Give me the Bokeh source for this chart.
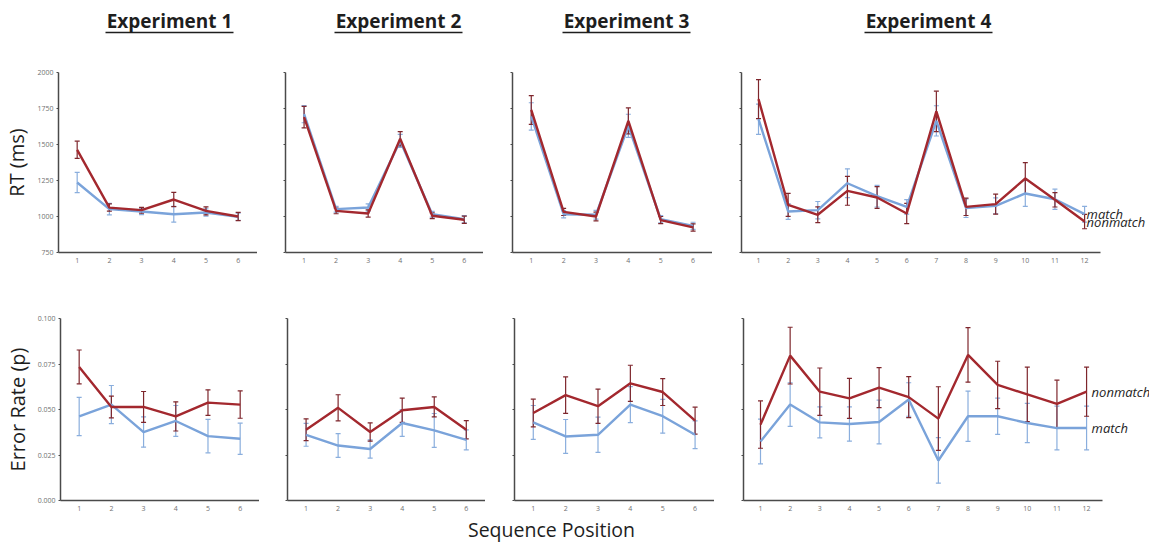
from bokeh.plotting import figure
from bokeh.layouts import column, row
from bokeh.models import ColumnDataSource, Range1d, FixedTicker, Whisker, TeeHead
from bokeh.core.properties import value
from bokeh.embed import file_html
from bokeh.resources import INLINE

# ---------------------------------------------------------------- data
positions_short = [1, 2, 3, 4, 5, 6]
positions_long = [1, 2, 3, 4, 5, 6, 7, 8, 9, 10, 11, 12]

experiment_titles = ["Experiment 1", "Experiment 2", "Experiment 3", "Experiment 4"]
series_names = ["match", "nonmatch"]

rt_ticks = [750, 1000, 1250, 1500, 1750, 2000]
rt_tick_labels = ["750", "1000", "1250", "1500", "1750", "2000"]
err_ticks = [0.0, 0.025, 0.05, 0.075, 0.1]
err_tick_labels = ["0.000", "0.025", "0.050", "0.075", "0.100"]

# reaction times (ms): mean and standard error per sequence position
exp1_rt_match = [1236, 1051, 1035, 1016, 1028, 998]
exp1_rt_match_se = [70, 40, 22, 55, 25, 25]
exp1_rt_nonmatch = [1463, 1062, 1044, 1118, 1039, 1000]
exp1_rt_nonmatch_se = [60, 25, 20, 50, 28, 28]

exp2_rt_match = [1711, 1051, 1062, 1525, 1016, 981]
exp2_rt_match_se = [60, 20, 25, 45, 20, 25]
exp2_rt_nonmatch = [1690, 1039, 1021, 1540, 1005, 977]
exp2_rt_nonmatch_se = [75, 20, 25, 50, 20, 25]

exp3_rt_match = [1695, 1016, 1012, 1630, 981, 935]
exp3_rt_match_se = [95, 25, 30, 80, 25, 25]
exp3_rt_nonmatch = [1740, 1032, 1000, 1664, 975, 924]
exp3_rt_nonmatch_se = [100, 25, 30, 90, 25, 25]

exp4_rt_match = [1676, 1035, 1044, 1231, 1141, 1067, 1664, 1058, 1074, 1160, 1120, 1016]
exp4_rt_match_se = [105, 55, 60, 100, 75, 50, 105, 65, 55, 90, 70, 55]
exp4_rt_nonmatch = [1815, 1081, 1012, 1178, 1132, 1021, 1730, 1067, 1086, 1264, 1116, 965]
exp4_rt_nonmatch_se = [135, 80, 55, 100, 75, 70, 140, 60, 70, 110, 50, 50]

# error rates (proportion): mean and standard error per sequence position
exp1_err_match = [0.0462, 0.0527, 0.0376, 0.0437, 0.0354, 0.0339]
exp1_err_match_se = [0.0105, 0.0105, 0.0083, 0.0085, 0.0092, 0.0086]
exp1_err_nonmatch = [0.0734, 0.0514, 0.0514, 0.0462, 0.0538, 0.0527]
exp1_err_nonmatch_se = [0.0093, 0.006, 0.0085, 0.008, 0.007, 0.0075]

exp2_err_match = [0.0361, 0.0302, 0.0283, 0.0426, 0.0385, 0.0333]
exp2_err_match_se = [0.0063, 0.0065, 0.005, 0.0074, 0.0093, 0.0055]
exp2_err_nonmatch = [0.0389, 0.0509, 0.0376, 0.0496, 0.0514, 0.0389]
exp2_err_nonmatch_se = [0.006, 0.0072, 0.005, 0.0067, 0.0055, 0.005]

exp3_err_match = [0.0429, 0.0352, 0.0361, 0.0527, 0.0463, 0.0361]
exp3_err_match_se = [0.0093, 0.0093, 0.0097, 0.0099, 0.0093, 0.0076]
exp3_err_nonmatch = [0.0481, 0.0579, 0.0518, 0.0644, 0.0596, 0.0439]
exp3_err_nonmatch_se = [0.0076, 0.01, 0.0094, 0.0099, 0.0074, 0.0074]

exp4_err_match = [0.0324, 0.0527, 0.0429, 0.042, 0.0431, 0.0555, 0.022, 0.0463, 0.0463, 0.0426, 0.0398, 0.0398]
exp4_err_match_se = [0.0123, 0.012, 0.0085, 0.0094, 0.012, 0.0092, 0.0125, 0.0138, 0.01, 0.0108, 0.012, 0.012]
exp4_err_nonmatch = [0.0417, 0.0796, 0.0598, 0.0561, 0.062, 0.0568, 0.045, 0.08, 0.0635, 0.0583, 0.0531, 0.0598]
exp4_err_nonmatch_se = [0.013, 0.0156, 0.013, 0.011, 0.011, 0.0113, 0.0175, 0.015, 0.013, 0.015, 0.013, 0.0135]

# ---------------------------------------------------------------- style
FONT = "Open Sans"
MATCH_LINE = "#7aa3da"
MATCH_BAR = "#8aaedd"
NONMATCH_LINE = "#a3282e"
NONMATCH_BAR = "#7e262c"
AXIS_COLOR = "#4a4a4a"
TICK_LABEL_COLOR = "#707070"

TOP_FRAME_H = 180
BOTTOM_FRAME_H = 182


def make_panel(xs, match, match_se, nonmatch, nonmatch_se, *, x_range, x_bounds,
               y_range, y_ticks, y_labels, frame_w, frame_h, border_left,
               border_top, border_bottom, show_y_labels, y_axis_label=None,
               end_labels=None, label_offset=3):
    p = figure(frame_width=frame_w, frame_height=frame_h,
               x_range=Range1d(*x_range), y_range=Range1d(*y_range),
               min_border_left=border_left, min_border_right=0,
               min_border_top=border_top, min_border_bottom=border_bottom,
               toolbar_location=None, output_backend="svg")
    p.background_fill_color = "white"
    p.border_fill_color = "white"
    p.outline_line_color = None
    p.grid.visible = False

    for ys, se, line_c, bar_c in ((match, match_se, MATCH_LINE, MATCH_BAR),
                                  (nonmatch, nonmatch_se, NONMATCH_LINE, NONMATCH_BAR)):
        src = ColumnDataSource(dict(
            x=xs, y=ys,
            upper=[v + e for v, e in zip(ys, se)],
            lower=[v - e for v, e in zip(ys, se)]))
        p.line("x", "y", source=src, line_color=line_c, line_width=2.4)
        p.add_layout(Whisker(source=src, base="x", upper="upper", lower="lower",
                             line_color=bar_c, line_width=1.2,
                             upper_head=TeeHead(size=5, line_color=bar_c, line_width=1.2),
                             lower_head=TeeHead(size=5, line_color=bar_c, line_width=1.2)))

    if end_labels:
        last_x = [xs[-1], xs[-1]]
        last_y = [match[-1], nonmatch[-1]]
        p.text(x=last_x, y=last_y, text=end_labels, x_offset=label_offset,
               text_font=value(FONT), text_font_style="italic",
               text_font_size="13px", text_color="#1e1e1e",
               text_baseline="middle", text_align="left")

    xa = p.xaxis[0]
    xa.ticker = FixedTicker(ticks=xs)
    xa.bounds = x_bounds
    ya = p.yaxis[0]
    ya.ticker = FixedTicker(ticks=y_ticks)
    ya.major_label_overrides = ({t: s for t, s in zip(y_ticks, y_labels)}
                                if show_y_labels else {t: "" for t in y_ticks})
    for ax in (xa, ya):
        ax.axis_line_color = AXIS_COLOR
        ax.axis_line_width = 1.5
        ax.major_tick_line_color = AXIS_COLOR
        ax.major_tick_out = 2
        ax.major_tick_in = 0
        ax.minor_tick_line_color = None
        ax.major_label_text_font = FONT
        ax.major_label_text_font_size = "7px"
        ax.major_label_text_color = TICK_LABEL_COLOR
        ax.major_label_standoff = 3
    xa.major_tick_line_color = None
    if y_axis_label:
        ya.axis_label = y_axis_label
        ya.axis_label_text_font = FONT
        ya.axis_label_text_font_size = "20px"
        ya.axis_label_text_font_style = "normal"
        ya.axis_label_text_color = "#1e1e1e"
        ya.axis_label_standoff = 4
    return p


SHORT_RANGE = (0.42, 6.6)
LONG_RANGE = (0.4265, 14.19)
LONG_BOUNDS = (0.4265, 12.54)

# column geometry: (left border, frame width)
cols = [(58, 199), (28, 198), (29, 200), (29, 408)]

rt_sets = [
    (exp1_rt_match, exp1_rt_match_se, exp1_rt_nonmatch, exp1_rt_nonmatch_se),
    (exp2_rt_match, exp2_rt_match_se, exp2_rt_nonmatch, exp2_rt_nonmatch_se),
    (exp3_rt_match, exp3_rt_match_se, exp3_rt_nonmatch, exp3_rt_nonmatch_se),
    (exp4_rt_match, exp4_rt_match_se, exp4_rt_nonmatch, exp4_rt_nonmatch_se),
]
err_sets = [
    (exp1_err_match, exp1_err_match_se, exp1_err_nonmatch, exp1_err_nonmatch_se),
    (exp2_err_match, exp2_err_match_se, exp2_err_nonmatch, exp2_err_nonmatch_se),
    (exp3_err_match, exp3_err_match_se, exp3_err_nonmatch, exp3_err_nonmatch_se),
    (exp4_err_match, exp4_err_match_se, exp4_err_nonmatch, exp4_err_nonmatch_se),
]

top_row, bottom_row = [], []
for i, ((bl, fw), rt, er) in enumerate(zip(cols, rt_sets, err_sets)):
    last = i == 3
    xs = positions_long if last else positions_short
    xr = LONG_RANGE if last else SHORT_RANGE
    xb = LONG_BOUNDS if last else SHORT_RANGE
    top_row.append(make_panel(
        xs, *rt, x_range=xr, x_bounds=xb, y_range=(750, 2000),
        y_ticks=rt_ticks, y_labels=rt_tick_labels, frame_w=fw,
        frame_h=TOP_FRAME_H, border_left=bl, border_top=27, border_bottom=30,
        show_y_labels=(i == 0), y_axis_label="RT (ms)" if i == 0 else None,
        end_labels=series_names if last else None, label_offset=2))
    bottom_row.append(make_panel(
        xs, *er, x_range=xr, x_bounds=xb, y_range=(0.0, 0.1),
        y_ticks=err_ticks, y_labels=err_tick_labels, frame_w=fw,
        frame_h=BOTTOM_FRAME_H, border_left=bl, border_top=36, border_bottom=14,
        show_y_labels=(i == 0), y_axis_label="Error Rate (p)" if i == 0 else None,
        end_labels=series_names if last else None, label_offset=5))


def strip(height):
    s = figure(width=1149, height=height, x_range=Range1d(0, 1149),
               y_range=Range1d(height, 0), x_axis_type=None, y_axis_type=None,
               min_border=0, toolbar_location=None, output_backend="svg")
    s.outline_line_color = None
    s.grid.visible = False
    s.background_fill_color = "white"
    s.border_fill_color = "white"
    return s


# experiment headings, underlined
title_centers = [169, 398, 626, 928]
title_half_width = 64
head = strip(45)
head.text(x=title_centers, y=[20] * 4, text=experiment_titles,
          text_font=value(FONT), text_font_style="bold", text_font_size="19px",
          text_color="#1e1e1e", text_align="center", text_baseline="middle")
head.segment(x0=[c - title_half_width for c in title_centers], y0=[32] * 4,
             x1=[c + title_half_width for c in title_centers], y1=[32] * 4,
             line_color="#1e1e1e", line_width=1.6)

# shared x-axis title
foot = strip(28)
foot.text(x=[551], y=[14.5], text=["Sequence Position"], text_font=value(FONT),
          text_font_size="19.5px", text_color="#1e1e1e", text_align="center",
          text_baseline="middle")

layout = column(head, row(*top_row), row(*bottom_row), foot)

open("out.html", "w").write(file_html(layout, INLINE))
